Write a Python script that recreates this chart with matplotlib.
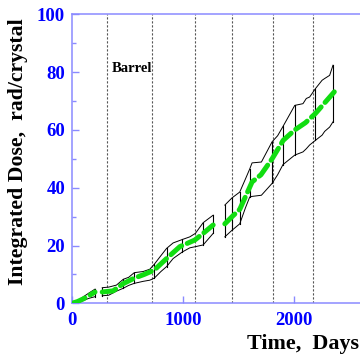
import numpy as np
import matplotlib
matplotlib.use("Agg")
import matplotlib.pyplot as plt

plt.rcParams['font.family'] = ['Liberation Serif', 'DejaVu Serif']
plt.rcParams['font.weight'] = 'bold'

# dose envelope, three running periods (days, rad/crystal)
seg1_days  = [0, 50, 100, 150, 207]
seg1_upper = [0, 0.9, 2.2, 3.5, 4.9]
seg1_lower = [0, 0.3, 0.9, 1.7, 2.3]
seg1_center_days = [0, 50, 100, 150, 207]
seg1_center = [0, 0.6, 1.5, 2.6, 3.9]

seg2_days  = [272, 330, 400, 461, 510, 560, 640, 700, 740, 800, 851, 910, 994, 1060, 1110, 1180, 1270]
seg2_upper = [5.4, 5.6, 6.3, 8.3, 9.0, 10.6, 11.0, 11.8, 13.5, 16.5, 19.0, 20.9, 22.1, 23.0, 24.2, 27.9, 30.5]
seg2_lower = [2.6, 2.8, 4.2, 5.2, 6.2, 6.9, 7.6, 8.0, 8.7, 11.0, 12.7, 15.5, 17.8, 19.2, 19.6, 20.2, 24.2]
seg2_center_days = [272, 370, 461, 560, 650, 740, 851, 970, 1105, 1180, 1270]
seg2_center = [3.9, 4.3, 6.8, 8.7, 10.0, 11.5, 15.5, 19.6, 21.9, 24.2, 27.1]

seg3_days  = [1375, 1440, 1509, 1560, 1599, 1620, 1704, 1800, 1850, 1898, 2004,
              2078, 2108, 2138, 2190, 2250, 2273, 2318, 2348]
seg3_upper = [34.0, 36.5, 38.5, 43.0, 46.5, 48.6, 48.9, 55.9, 58.0, 61.2, 68.5,
              69.1, 70.9, 71.4, 74.3, 77.2, 77.8, 78.9, 82.4]
seg3_lower = [23.0, 25.3, 27.5, 33.0, 36.8, 37.0, 37.4, 41.5, 44.5, 48.0, 51.3,
              52.4, 53.5, 54.8, 56.4, 58.2, 59.5, 61.0, 62.8]
seg3_center_days = [1375, 1440, 1509, 1620, 1700, 1800, 1900, 2004, 2100, 2190, 2360]
seg3_center = [27.5, 30.0, 32.5, 42.0, 44.5, 50.0, 56.4, 60.0, 62.5, 65.7, 73.2]

seg1_bars = [207]
seg2_bars = [272, 461, 560, 740, 851, 994, 1180, 1270]
seg3_bars = [1375, 1440, 1509, 1599, 1800, 1898, 2004, 2190, 2348]

# year boundaries
year_lines = [317, 716, 1111, 1435, 1809, 2172]

fig = plt.figure(figsize=(3.6, 3.58), dpi=100)
ax = fig.add_axes([72/360, 0.1528, 289/360, 0.807])

for d in year_lines:
    ax.axvline(d, color='#555555', lw=0.8, ls=(0, (2, 1.6)), zorder=1)

segs = [
    (seg1_days, seg1_upper, seg1_lower, seg1_bars, seg1_center_days, seg1_center),
    (seg2_days, seg2_upper, seg2_lower, seg2_bars, seg2_center_days, seg2_center),
    (seg3_days, seg3_upper, seg3_lower, seg3_bars, seg3_center_days, seg3_center),
]
for days, up, lo, bars, cd, cv in segs:
    ax.plot(days, up, color='black', lw=0.7, zorder=2)
    ax.plot(days, lo, color='black', lw=0.7, zorder=2)
    for b in bars:
        ax.plot([b, b], [np.interp(b, days, lo), np.interp(b, days, up)],
                color='black', lw=0.8, zorder=2)
    ax.plot(cd, cv, color='#11dd11', lw=3.6, dashes=(2.8, 1.2),
            solid_capstyle='round', dash_capstyle='round', zorder=3)

ax.text(357, 81.2, 'Barrel', fontsize=10.5, fontweight='bold', va='center')

ax.set_xlim(0, 2600)
ax.set_ylim(0, 100)
ax.set_xticks([0, 1000, 2000])
ax.set_yticks([0, 20, 40, 60, 80, 100])
ax.set_yticks([10, 30, 50, 70, 90], minor=True)

spine_col = '#8a8aff'
for s in ax.spines.values():
    s.set_color(spine_col)
    s.set_linewidth(1.1)
ax.tick_params(axis='both', which='major', direction='in', length=5, width=1,
               color=spine_col, labelcolor='#0000ff', labelsize=13.5)
ax.tick_params(axis='y', which='major', pad=5)
ax.tick_params(axis='x', which='major', pad=6)
ax.tick_params(axis='y', which='minor', direction='in', length=3, width=1, color=spine_col)
for lab in ax.get_xticklabels() + ax.get_yticklabels():
    lab.set_fontweight('bold')

fig.text(18/360, 1 - 152/358, 'Integrated Dose,  rad/crystal', rotation=90,
         ha='center', va='center', fontsize=15.7, fontweight='bold')
fig.text(359/360, 1 - 344/358, 'Time,  Days', ha='right', va='center',
         fontsize=15.8, fontweight='bold')

fig.savefig('out.png', dpi=100)
